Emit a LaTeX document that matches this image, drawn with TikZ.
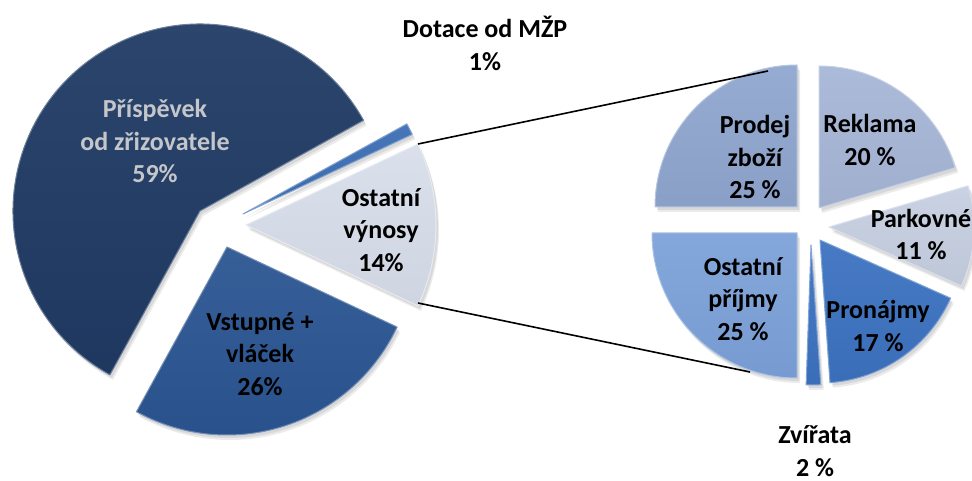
\documentclass[tikz,border=0pt]{standalone}
\usepackage{fontspec}
\setmainfont{Carlito}
\definecolor{cPris}{HTML}{1F3A64}
\definecolor{cVst}{HTML}{2A5491}
\definecolor{cDot}{HTML}{3C6EB4}
\definecolor{cOstV}{HTML}{D8DEEA}
\definecolor{cProd}{HTML}{8FA6CF}
\definecolor{cRekl}{HTML}{A6B6D6}
\definecolor{cPark}{HTML}{C6CFE1}
\definecolor{cPron}{HTML}{3C72C0}
\definecolor{cZvi}{HTML}{3C72C0}
\definecolor{cOstP}{HTML}{7CA1D9}
\definecolor{cLightTxt}{HTML}{C4C6CA}
\tikzset{
  lbl/.style={font=\bfseries\fontsize{26}{32.5}\selectfont, align=center, text=black, inner sep=0pt},
  connector/.style={draw=black, line width=1.6pt},
}
% #1 x, #2 y, #3 start angle, #4 end angle, #5 radius, #6 colour
\newcommand\mypieslice[6]{%
  \fill[black,opacity=0.08] (#1+3,#2-5) -- ++(#3:#5pt) arc[start angle=#3,end angle=#4,radius=#5pt] -- cycle;
  \fill[black,opacity=0.08] (#1+2,#2-3) -- ++(#3:#5pt) arc[start angle=#3,end angle=#4,radius=#5pt] -- cycle;
  \shadedraw[top color=#6!94!white, middle color=#6, bottom color=#6!96!black, draw=#6!65!white, line width=1pt, line join=round]
    (#1,#2) -- ++(#3:#5pt) arc[start angle=#3,end angle=#4,radius=#5pt] -- cycle;
}
\begin{document}
\begin{tikzpicture}[x=1pt,y=1pt]
\useasboundingbox (0,0) rectangle (972,-481);
\fill[white] (0,0) rectangle (972,-481);

% left pie
\mypieslice{200}{-211}{29}{241.2}{187}{cPris}
\mypieslice{243}{-214}{25.2}{28.8}{187}{cDot}
\mypieslice{246}{-225}{-25.2}{25.2}{190}{cOstV}
\mypieslice{227}{-247}{241.2}{334.8}{188}{cVst}

% right pie
\mypieslice{797}{-207}{90}{180}{142}{cProd}
\mypieslice{819}{-208}{16.5}{90}{142}{cRekl}
\mypieslice{829}{-227}{-24}{16.5}{145}{cPark}
\mypieslice{820}{-240}{-86}{-24}{143}{cPron}
\mypieslice{811}{-245}{-92}{-86}{140}{cZvi}
\mypieslice{797}{-233}{180}{270}{145}{cOstP}

% connectors
\coordinate (ovTop) at (418,-144);
\coordinate (ovBot) at (418,-303);
\coordinate (pzTop) at (768,-71);
\coordinate (opBot) at (750,-372);
\draw[connector] (ovTop) -- (pzTop);
\draw[connector] (ovBot) -- (opBot);

% labels
\node[lbl, text=cLightTxt] (lPris) at (155,-141) {Příspěvek\\od zřizovatele\\59\%};
\node[lbl] (lDot) at (485,-43.5) {Dotace od MŽP\\1\%};
\node[lbl] (lOstV) at (381,-230) {Ostatní\\výnosy\\14\%};
\node[lbl] (lVst) at (260,-354) {Vstupné +\\vláček\\26\%};
\node[lbl] (lProd) at (755,-157) {Prodej\\zboží\\25 \%};
\node[lbl] (lRekl) at (870,-140) {Reklama\\20 \%};
\node[lbl] (lPark) at (921,-234.5) {Parkovné\\11 \%};
\node[lbl] (lPron) at (878,-326) {Pronájmy\\17 \%};
\node[lbl] (lOstP) at (743,-299) {Ostatní\\příjmy\\25 \%};
\node[lbl] (lZvi) at (815,-451) {Zvířata\\2 \%};
\end{tikzpicture}
\end{document}
